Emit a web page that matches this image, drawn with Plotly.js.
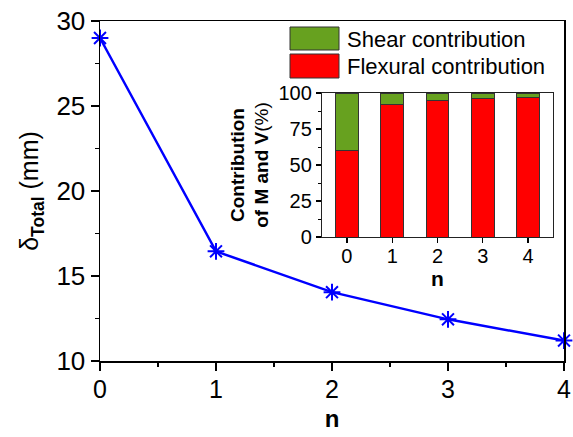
<!DOCTYPE html>
<html>
<head>
<meta charset="utf-8">
<script src="https://cdn.plot.ly/plotly-3.0.1.min.js"></script>
<style>html,body{margin:0;padding:0;background:#fff;}#chart{width:573px;height:437px;}</style>
</head>
<body>
<div id="chart"></div>
<script>
// Main curve data
const nValues = [0, 1, 2, 3, 4];
const deltaTotal = [29.0, 16.45, 14.05, 12.45, 11.2];

// Inset stacked bar data (%)
const insetCategories = [0, 1, 2, 3, 4];
const flexuralPct = [60.2, 92.1, 94.9, 96.3, 97.0];
const shearPct = [39.8, 7.9, 5.1, 3.7, 3.0];

const seriesNames = ['Shear contribution', 'Flexural contribution'];
const green = '#67a11f';
const red = '#ff0000';
const FONT = 'Liberation Sans, Arial, sans-serif';

const traces = [
  {
    x: nValues, y: deltaTotal, type: 'scatter', mode: 'lines+markers',
    line: {color: '#0000ff', width: 2.5},
    marker: {symbol: 'asterisk-open', size: 14, color: '#0000ff', line: {color: '#0000ff', width: 2}},
    xaxis: 'x', yaxis: 'y', showlegend: false, cliponaxis: false
  },
  {
    x: insetCategories, y: flexuralPct, type: 'bar', name: seriesNames[1],
    marker: {color: red, line: {color: '#333', width: 1}}, width: 0.5,
    xaxis: 'x2', yaxis: 'y2', showlegend: false
  },
  {
    x: insetCategories, y: shearPct, type: 'bar', name: seriesNames[0],
    marker: {color: green, line: {color: '#333', width: 1}}, width: 0.5,
    xaxis: 'x2', yaxis: 'y2', showlegend: false
  }
];

const L = 100, R = 564, T = 21, B = 361;
function px(x){ return (x - L) / (R - L); }
function py(y){ return (B - y) / (B - T); }

const layout = {
  width: 573, height: 437,
  margin: {l: L, r: 573 - R, t: T, b: 437 - B},
  paper_bgcolor: '#fff', plot_bgcolor: '#fff',
  font: {family: FONT, color: '#000', size: 22},
  barmode: 'stack',
  showlegend: false,
  xaxis: {
    domain: [0, 1], range: [0, 4], dtick: 1, tick0: 0,
    showgrid: false, zeroline: false,
    showline: true, linecolor: '#000', linewidth: 1.5, mirror: true,
    ticks: 'outside', ticklen: 8, tickwidth: 1.5, tickcolor: '#000',
    minor: {dtick: 0.5, ticks: 'outside', ticklen: 4, tickwidth: 1.2, tickcolor: '#000'},
    tickfont: {size: 25, family: FONT},
    ticklabelstandoff: -3,
    title: {text: '<b>n</b>', font: {size: 24, family: FONT}, standoff: 8}
  },
  yaxis: {
    domain: [0, 1], range: [10, 30], dtick: 5,
    showgrid: false, zeroline: false,
    showline: true, linecolor: '#000', linewidth: 1.5, mirror: true,
    ticks: 'outside', ticklen: 8, tickwidth: 1.5, tickcolor: '#000',
    minor: {dtick: 2.5, ticks: 'outside', ticklen: 4, tickwidth: 1.2, tickcolor: '#000'},
    tickfont: {size: 26, family: FONT},
    title: {text: 'δ<sub><b>Total</b></sub> (mm)', font: {size: 25, family: FONT}, standoff: 10}
  },
  xaxis2: {
    domain: [px(322), px(553)], anchor: 'y2', range: [-0.55, 4.55], dtick: 1,
    showgrid: false, zeroline: false,
    showline: true, linecolor: '#222', linewidth: 1.2, mirror: true,
    ticks: 'outside', ticklen: 5, tickwidth: 1.2, tickcolor: '#000',
    tickfont: {size: 20, family: FONT},
    ticklabelstandoff: -4,
    title: {text: '<b>n</b>', font: {size: 21, family: FONT}, standoff: 0}
  },
  yaxis2: {
    domain: [py(237), py(93)], anchor: 'x2', range: [0, 100], dtick: 25,
    showgrid: false, zeroline: false,
    showline: true, linecolor: '#222', linewidth: 1.2, mirror: true,
    ticks: 'outside', ticklen: 5, tickwidth: 1.2, tickcolor: '#000',
    minor: {dtick: 12.5, ticks: 'outside', ticklen: 3, tickwidth: 1, tickcolor: '#000'},
    tickfont: {size: 20, family: FONT},
    title: {text: '<b>Contribution</b><br><b>of M and V</b>(%)', font: {size: 19, family: FONT}, standoff: 4}
  },
  shapes: [
    {type: 'rect', xref: 'paper', yref: 'paper', x0: px(290), x1: px(339), y0: py(50), y1: py(27),
     fillcolor: green, line: {color: '#333', width: 1}},
    {type: 'rect', xref: 'paper', yref: 'paper', x0: px(290), x1: px(339), y0: py(78), y1: py(54),
     fillcolor: red, line: {color: '#333', width: 1}}
  ],
  annotations: [
    {xref: 'paper', yref: 'paper', x: px(345), y: py(39), xanchor: 'left', yanchor: 'middle',
     text: seriesNames[0], showarrow: false, font: {size: 22, family: FONT}},
    {xref: 'paper', yref: 'paper', x: px(345), y: py(66), xanchor: 'left', yanchor: 'middle',
     text: seriesNames[1], showarrow: false, font: {size: 22, family: FONT}}
  ]
};

Plotly.newPlot('chart', traces, layout, {displayModeBar: false, staticPlot: true});
</script>
</body>
</html>
